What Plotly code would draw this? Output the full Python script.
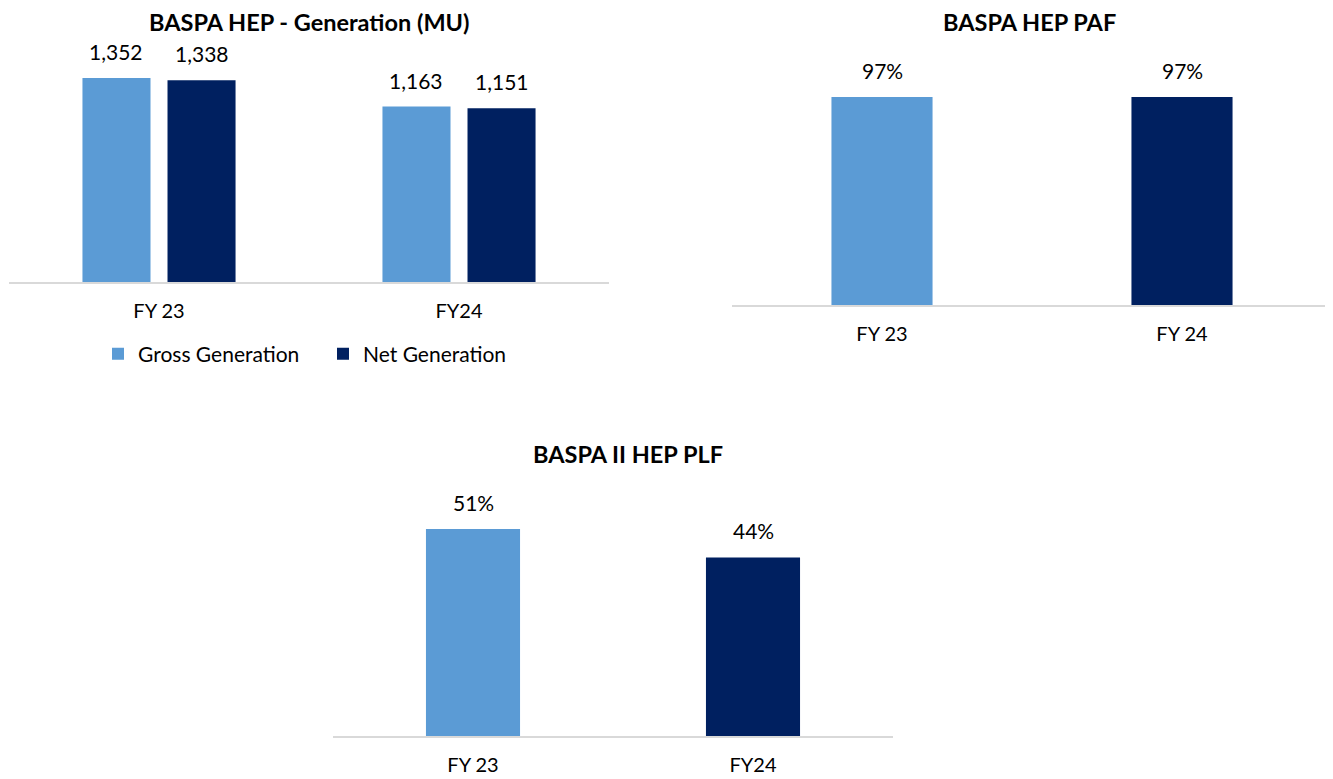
import plotly.graph_objects as go

# ---- data ----
gen_categories = ["FY 23", "FY24"]
gross_generation = [1352, 1163]
net_generation = [1338, 1151]

paf_categories = ["FY 23", "FY 24"]
paf_values = [0.97, 0.97]

plf_categories = ["FY 23", "FY24"]
plf_values = [0.51, 0.44]

# ---- style ----
LIGHT = "#5B9BD5"
DARK = "#002060"
AXIS_GRAY = "#D9D9D9"
FONT = "Lato"
PAGE_OFF = 8            # default body margin of the page
W, H = 1333 - PAGE_OFF, 779 - PAGE_OFF
TICK_SIZE = 20
LABEL_SIZE = 21
LEGEND_SIZE = 21
TITLE_SIZE = 23.5

def px_x(p):
    return (p - PAGE_OFF) / W

def px_y(p):
    return 1 - (p - PAGE_OFF) / H

# plot areas in page pixels (left, right, top, bottom)
A1 = (9, 609, 40, 282)
A2 = (732, 1332, 40, 305)
A3 = (333, 893, 480, 736)
BARGAP_1, BARGROUPGAP_1 = 0.433, 0.2

fig = go.Figure()

fig.add_trace(go.Bar(x=gen_categories, y=gross_generation, name="Gross Generation",
                     marker=dict(color=LIGHT, line=dict(width=0)), xaxis="x", yaxis="y",
                     hoverinfo="skip"))
fig.add_trace(go.Bar(x=gen_categories, y=net_generation, name="Net Generation",
                     marker=dict(color=DARK, line=dict(width=0)), xaxis="x", yaxis="y",
                     hoverinfo="skip"))
fig.add_trace(go.Bar(x=paf_categories, y=paf_values, showlegend=False,
                     marker=dict(color=[LIGHT, DARK], line=dict(width=0)), xaxis="x2", yaxis="y2",
                     width=0.337, hoverinfo="skip"))
fig.add_trace(go.Bar(x=plf_categories, y=plf_values, showlegend=False,
                     marker=dict(color=[LIGHT, DARK], line=dict(width=0)), xaxis="x3", yaxis="y3",
                     width=0.336, hoverinfo="skip"))

annotations = []
# data labels - grouped chart
cat_px = (A1[1] - A1[0]) / len(gen_categories)
slot_shift = cat_px * (1 - BARGAP_1) / 4
for series, sign in ((gross_generation, -1), (net_generation, 1)):
    for c, v in zip(gen_categories, series):
        annotations.append(dict(x=c, y=v, xref="x", yref="y", text=f"{v:,}", showarrow=False,
                                yanchor="bottom", yshift=12, xshift=sign * slot_shift,
                                font=dict(family=FONT, size=LABEL_SIZE, color="#000000")))
for cats, vals, xr, yr in ((paf_categories, paf_values, "x2", "y2"),
                           (plf_categories, plf_values, "x3", "y3")):
    for c, v in zip(cats, vals):
        annotations.append(dict(x=c, y=v, xref=xr, yref=yr, text=f"{v:.0%}", showarrow=False,
                                yanchor="bottom", yshift=12,
                                font=dict(family=FONT, size=LABEL_SIZE, color="#000000")))

# titles
for text, cx, cy in (("BASPA HEP - Generation (MU)", 309, 22),
                     ("BASPA HEP PAF", 1029, 22),
                     ("BASPA II HEP PLF", 628, 454)):
    annotations.append(dict(x=px_x(cx), y=px_y(cy), xref="paper", yref="paper", text=f"<b>{text}</b>",
                            showarrow=False, xanchor="center", yanchor="middle", borderpad=0,
                            font=dict(family=FONT, size=TITLE_SIZE, color="#000000")))

def xaxis(area):
    return dict(domain=[px_x(area[0]), px_x(area[1])], showline=True, linecolor=AXIS_GRAY, linewidth=2,
                showgrid=False, zeroline=False, ticks="outside", ticklen=10, tickcolor="rgba(0,0,0,0)",
                tickfont=dict(family=FONT, size=TICK_SIZE, color="#000000"), fixedrange=True)

def yaxis(area, anchor, rmax):
    return dict(domain=[px_y(area[3]), px_y(area[2])], range=[0, rmax], visible=False,
                showgrid=False, zeroline=False, anchor=anchor, fixedrange=True)

fig.update_layout(
    width=W, height=H, autosize=False,
    margin=dict(l=0, r=0, t=0, b=0),
    paper_bgcolor="white", plot_bgcolor="white",
    barmode="group", bargap=BARGAP_1, bargroupgap=BARGROUPGAP_1,
    font=dict(family=FONT, color="#000000"),
    xaxis=dict(**xaxis(A1), anchor="y"),
    yaxis=yaxis(A1, "x", 1604),
    xaxis2=dict(**xaxis(A2), anchor="y2"),
    yaxis2=yaxis(A2, "x2", 1.236),
    xaxis3=dict(**xaxis(A3), anchor="y3"),
    yaxis3=yaxis(A3, "x3", 0.6307),
    legend=dict(orientation="h", x=px_x(98), y=px_y(354), xanchor="left", yanchor="middle",
                font=dict(family=FONT, size=LEGEND_SIZE, color="#000000"), bgcolor="rgba(0,0,0,0)",
                entrywidth=180, entrywidthmode="pixels",
                itemclick=False, itemdoubleclick=False),
    annotations=annotations,
    showlegend=True,
)

fig.write_html("out.html")
